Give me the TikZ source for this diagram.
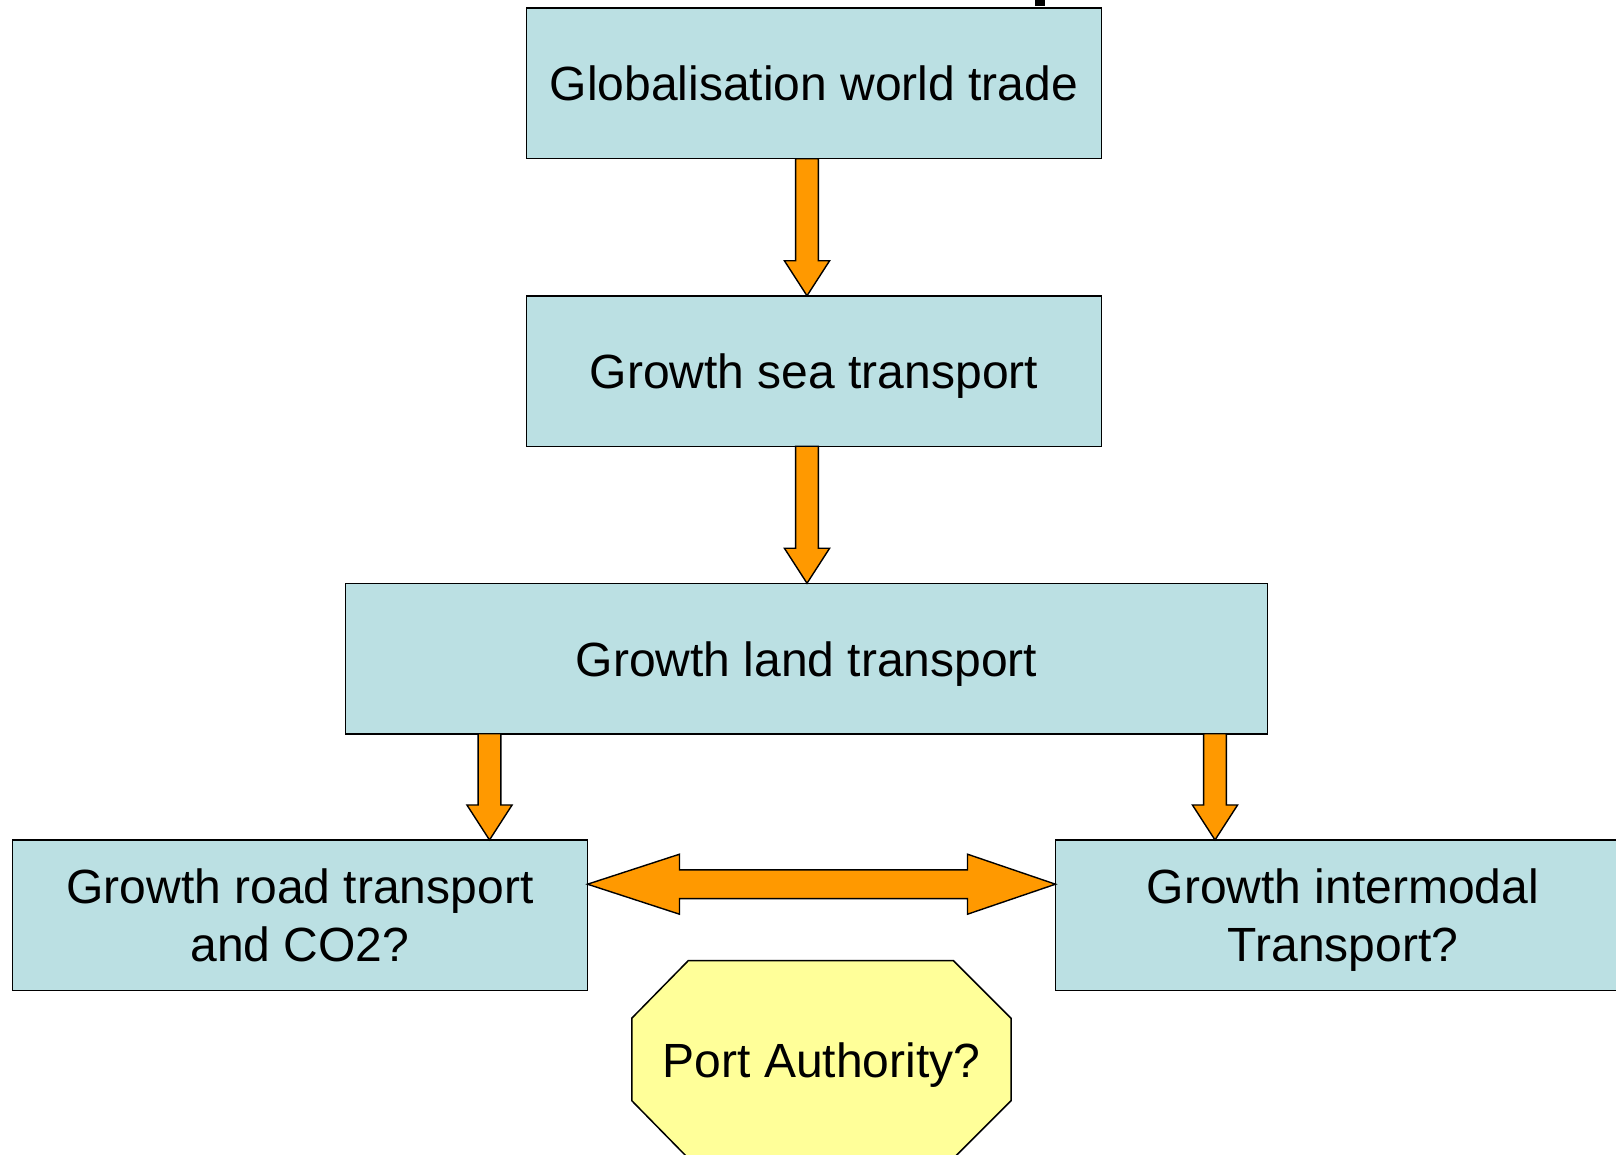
\documentclass[tikz,border=0pt]{standalone}
\usepackage{fontspec}
\setmainfont{Liberation Sans}
\usetikzlibrary{calc}
\definecolor{boxblue}{HTML}{BBE0E3}
\definecolor{arrorange}{HTML}{FF9900}
\definecolor{octyellow}{HTML}{FFFF99}
\tikzset{
  box/.style={draw=black, line width=0.75pt, fill=boxblue, minimum height=75.25pt,
    inner sep=0pt, outer sep=0pt, align=center,
    font=\fontsize{24}{29}\selectfont},
  oneline/.style={text height=17.5pt, text depth=0pt},
  barrow/.style={draw=black, line width=0.7pt, fill=arrorange, line join=miter},
  octa/.style={draw=black, line width=0.75pt, fill=octyellow},
}
\newcommand\nodepth[1]{\raisebox{0pt}[\height][0pt]{#1}}
\newcommand\downblock[2]{%
  \draw[barrow] let \p1=(#1), \p2=(#2) in
    (\x1-5.7pt,\y1) -- (\x1+5.7pt,\y1) -- (\x1+5.7pt,\y2+17.5pt) --
    (\x1+11.3pt,\y2+17.5pt) -- (\x1,\y2) -- (\x1-11.3pt,\y2+17.5pt) --
    (\x1-5.7pt,\y2+17.5pt) -- cycle;}
\begin{document}
\begin{tikzpicture}[x=0.5pt,y=-0.5pt]
\useasboundingbox (0,0) rectangle (1616,1155);
% fragment of cut-off title
\fill[black] (1035,0) rectangle (1045,6);
% boxes
\node[box, oneline, minimum width=287.5pt] (glob) at (814,83.5) {Globalisation world trade};
\node[box, oneline, minimum width=287.5pt] (sea) at (814,371) {Growth sea transport};
\node[box, oneline, minimum width=461pt] (land) at (806.5,658.5) {Growth land transport};
\node[box, minimum width=287.5pt] (road) at (300,915.2) {Growth road transport\\and CO2?};
\node[box, minimum width=287.5pt] (inter) at (1343,915.2) {Growth intermodal\\\nodepth{Transport?}};
% octagon
\coordinate (o1) at (688.4,960.5);
\coordinate (o2) at (953.3,960.5);
\coordinate (o3) at (1011,1018.2);
\coordinate (o4) at (1011,1100.7);
\coordinate (o5) at (953.3,1158.4);
\coordinate (o6) at (688.4,1158.4);
\coordinate (o7) at (631.8,1100.7);
\coordinate (o8) at (631.8,1018.2);
\draw[octa] (o1) -- (o2) -- (o3) -- (o4) -- (o5) -- (o6) -- (o7) -- (o8) -- cycle;
\node[font=\fontsize{24}{29}\selectfont, inner sep=0pt, oneline] (port) at (821.5,1060) {Port Authority?};
% vertical block arrows
\downblock{807,0 |- glob.south}{807,0 |- sea.north}
\downblock{807,0 |- sea.south}{807,0 |- land.north}
\downblock{489.5,0 |- land.south}{489.5,0 |- road.north}
\downblock{1215,0 |- land.south}{1215,0 |- inter.north}
% double block arrow
\draw[barrow] let \p1=(road.east |- 0,884.2), \p2=(inter.west |- 0,884.2) in
  (\x1,\y1) -- (\x1+46pt,\y1+15pt) -- (\x1+46pt,\y1+7.2pt) --
  (\x2-44pt,\y1+7.2pt) -- (\x2-44pt,\y1+15pt) -- (\x2,\y1) --
  (\x2-44pt,\y1-15pt) -- (\x2-44pt,\y1-7.2pt) -- (\x1+46pt,\y1-7.2pt) --
  (\x1+46pt,\y1-15pt) -- cycle;
\end{tikzpicture}
\end{document}
